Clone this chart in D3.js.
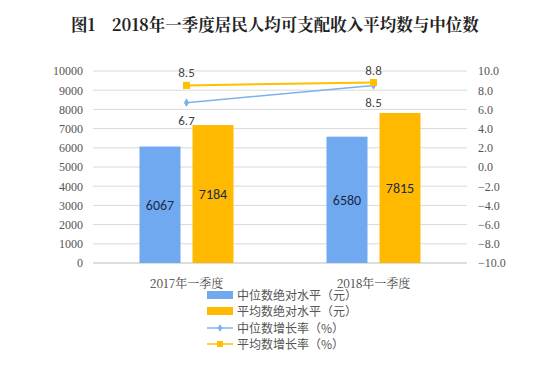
<!DOCTYPE html>
<html><head><meta charset="utf-8">
<script src="https://cdn.jsdelivr.net/npm/d3@7"></script>
<style>body{margin:0;background:#fff}</style>
</head><body>
<svg id="c" width="549" height="367"></svg>
<script>
const categories = ["2017年一季度", "2018年一季度"];
const medianLevel = [6067, 6580];
const meanLevel = [7184, 7815];
const medianGrowth = [6.7, 8.5];
const meanGrowth = [8.5, 8.8];
const leftTicks = [0,1000,2000,3000,4000,5000,6000,7000,8000,9000,10000];
const rightTicks = [-10,-8,-6,-4,-2,0,2,4,6,8,10];
const seriesNames = ["中位数绝对水平（元）","平均数绝对水平（元）","中位数增长率（%）","平均数增长率（%）"];

const svg = d3.select("#c");
const blue = "#71A9F0", orange = "#FFB900", lblue = "#7DB0EE", lorange = "#FFC000";
const x0 = 93, x1 = 467;
const x = d3.scaleBand().domain(categories).range([x0, x1]);
const yL = d3.scaleLinear().domain([0, 10000]).range([263, 71]);
const yR = d3.scaleLinear().domain([-10, 10]).range([263, 71]);

svg.append("text").attr("x", 275).attr("y", 31).attr("text-anchor","middle")
  .attr("font-family","'Noto Serif CJK SC','Liberation Serif','Noto Sans CJK SC',serif")
  .attr("font-weight","bold").attr("font-size",16.5).attr("fill","#222")
  .text("图1　2018年一季度居民人均可支配收入平均数与中位数");

// grid
svg.append("g").selectAll("line").data(leftTicks).join("line")
  .attr("x1", x0).attr("x2", x1).attr("y1", d=>yL(d)).attr("y2", d=>yL(d))
  .attr("stroke","#d9d9d9").attr("stroke-width",1);

// left axis
const axL = d3.axisLeft(yL).tickValues(leftTicks).tickSize(0).tickPadding(0).tickFormat(d3.format("d"));
const gL = svg.append("g").attr("transform",`translate(${83},0)`).call(axL);
gL.select(".domain").remove();
gL.selectAll("text").attr("font-family","'Liberation Serif',serif").attr("font-size",12).attr("fill","#555");

const axR = d3.axisRight(yR).tickValues(rightTicks).tickSize(0).tickPadding(0).tickFormat(d3.format(".1f"));
const gR = svg.append("g").attr("transform",`translate(${478},0)`).call(axR);
gR.select(".domain").remove();
gR.selectAll("text").attr("font-family","'Liberation Serif',serif").attr("font-size",12).attr("fill","#555");

// baseline
svg.append("line").attr("x1",x0).attr("x2",x1).attr("y1",yL(0)).attr("y2",yL(0)).attr("stroke","#d0d0d0");

// bars
const bw = 41, gap = 12;
const bars = [{vals: medianLevel, color: blue, off: -bw - gap/2}, {vals: meanLevel, color: orange, off: gap/2}];
bars.forEach(s => {
  const g = svg.append("g");
  g.selectAll("rect").data(categories).join("rect")
    .attr("x", (c)=>x(c)+x.bandwidth()/2 + s.off).attr("width", bw)
    .attr("y", (c,i)=>yL(s.vals[i])).attr("height",(c,i)=>yL(0)-yL(s.vals[i]))
    .attr("fill", s.color);
  g.selectAll("text").data(categories).join("text")
    .attr("x", (c)=>x(c)+x.bandwidth()/2 + s.off + bw/2)
    .attr("y", (c,i)=>(yL(s.vals[i])+yL(0))/2 + 5)
    .attr("text-anchor","middle").attr("font-family","Carlito,'Open Sans',sans-serif").attr("font-size",14)
    .attr("fill","#1a2a4a").text((c,i)=>s.vals[i]);
});

// lines
const cx = c => x(c) + x.bandwidth()/2;
const line = d3.line().x(d=>cx(d[0])).y(d=>yR(d[1]));
svg.append("path").datum(categories.map((c,i)=>[c, medianGrowth[i]])).attr("d", line)
  .attr("fill","none").attr("stroke",lblue).attr("stroke-width",1.5);
svg.append("path").datum(categories.map((c,i)=>[c, meanGrowth[i]])).attr("d", line)
  .attr("fill","none").attr("stroke",lorange).attr("stroke-width",2);
svg.append("g").selectAll("path").data(categories).join("path")
  .attr("d", d3.symbol(d3.symbolDiamond, 22)).attr("transform",(c,i)=>`translate(${cx(c)},${yR(medianGrowth[i])})`)
  .attr("fill",lblue);
svg.append("g").selectAll("rect").data(categories).join("rect")
  .attr("x",c=>cx(c)-3.5).attr("y",(c,i)=>yR(meanGrowth[i])-3.5).attr("width",7).attr("height",7)
  .attr("fill",lorange);
// labels
svg.append("g").selectAll("text").data(categories).join("text")
  .attr("x",cx).attr("y",(c,i)=>yR(meanGrowth[i])-8).attr("text-anchor","middle")
  .attr("font-family","Carlito,'Open Sans',sans-serif").attr("font-size",13).attr("fill","#444")
  .text((c,i)=>meanGrowth[i].toFixed(1));
svg.append("g").selectAll("text").data(categories).join("text")
  .attr("x",cx).attr("y",(c,i)=>yR(medianGrowth[i])+22).attr("text-anchor","middle")
  .attr("font-family","Carlito,'Open Sans',sans-serif").attr("font-size",13).attr("fill","#444")
  .text((c,i)=>medianGrowth[i].toFixed(1));

// category labels
svg.append("g").selectAll("text").data(categories).join("text")
  .attr("x",cx).attr("y",288).attr("text-anchor","middle")
  .attr("font-family","'Noto Serif CJK SC','Liberation Serif',serif").attr("font-size",12).attr("fill","#444")
  .text(d=>d);

// legend
const lg = svg.append("g");
const ly = [295, 311, 328, 344];
seriesNames.forEach((n,i)=>{
  if (i<2) {
    lg.append("rect").attr("x",207).attr("y",ly[i]-4).attr("width",26).attr("height",8).attr("fill", i==0?blue:orange);
  } else {
    const col = i==2?lblue:lorange;
    lg.append("line").attr("x1",207).attr("x2",233).attr("y1",ly[i]).attr("y2",ly[i]).attr("stroke",col).attr("stroke-width",1.5);
    if (i==2) lg.append("path").attr("d",d3.symbol(d3.symbolDiamond,18)).attr("transform",`translate(220,${ly[i]})`).attr("fill",col);
    else lg.append("rect").attr("x",217).attr("y",ly[i]-3).attr("width",6).attr("height",6).attr("fill",col);
  }
  lg.append("text").attr("x",237).attr("y",ly[i]+4.5).attr("font-family","'Noto Sans CJK SC',sans-serif")
    .attr("font-size",12).attr("fill","#555").text(n);
});
</script>
</body></html>
